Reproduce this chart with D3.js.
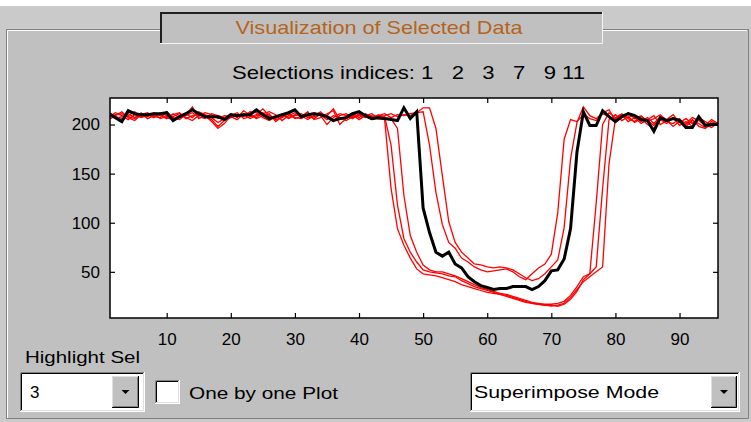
<!DOCTYPE html>
<html>
<head>
<meta charset="utf-8">
<script src="https://cdn.jsdelivr.net/npm/d3@7"></script>
<style>
  html, body { margin: 0; padding: 0; background: #ffffff; }
  svg { display: block; }
  text { font-family: "Liberation Sans", Arial, sans-serif; }
</style>
</head>
<body>
<svg id="chart" width="751" height="422"></svg>
<script>
// ---------- data ----------
const selectionIndices = [1, 2, 3, 7, 9, 11];
const highlighted = 3;
const xTicks = [10, 20, 30, 40, 50, 60, 70, 80, 90];
const yTicks = [50, 100, 150, 200];

const sel1 = [208,212,209,205,210,207,209,211,206,208, 210,212,206,209,211,208,205,198,204,207,
  210,208,213,212,207,204,208,210,206,209, 211,207,208,210,205,209,207,204,208,210,
  207,209,206,205,135,94,77,64,53,48, 47,46,44,42,40,37,35,33,31,29,
  28,27,25,23,21,19,18,17,16,15, 16,18,24,32,40,45,50,55,160,206,
  210,203,207,201,205,209,200,204,198,203, 200,205,198,196,201,199];
const sel2 = [205,209,213,207,204,210,212,208,207,213, 207,205,210,218,206,209,203,196,201,209,
  212,206,208,210,216,209,205,207,211,206, 208,213,205,207,211,214,200,206,210,205,
  209,211,206,208,179,118,84,70,60,52, 50,49,48,46,45,41,38,35,33,31,
  29,27,26,24,22,20,18,17,16,16, 15,17,22,30,42,48,55,135,205,210,
  204,208,202,206,200,196,205,201,207,199, 203,198,205,200,197,202];
const sel3 = [211,207,203,214,211,210,210,211,211,212, 204,208,211,215,211,208,208,208,205,210,
  209,210,210,215,210,206,208,210,212,215, 208,210,211,210,208,204,206,207,211,213,
  209,206,207,206,205,204,217,206,213,115, 90,70,66,70,58,54,45,40,36,34,
  32,33,33,35,35,35,32,35,41,51, 52,63,94,172,213,199,199,214,208,203,
  208,211,209,205,204,193,207,204,206,204, 197,197,208,199,200,200];
const sel7 = [210,206,208,211,207,212,206,209,210,207, 205,209,211,207,213,210,207,202,206,211,
  207,214,210,206,209,211,203,208,212,207, 206,210,212,209,200,207,211,209,206,211,
  208,205,210,207,206,196,128,87,70,57, 52,50,50,48,46,43,40,37,34,32,
  30,28,27,25,23,21,19,18,17,17, 18,20,26,35,45,48,120,200,212,207,
  211,206,203,208,204,199,207,203,201,206, 198,204,201,197,203,200];
const sel9 = [212,208,206,209,213,208,210,207,212,209, 208,211,207,204,209,212,210,206,209,208,
  205,211,209,207,212,208,206,211,207,210, 209,205,209,213,207,204,209,211,207,209,
  210,207,208,209,211,208,210,209,212,213, 179,131,98,80,74,64,60,55,52,50,
  51,52,53,50,45,42,48,54,58,68, 110,185,205,203,210,206,204,211,208,205,
  209,207,210,203,207,201,208,205,210,202, 206,201,207,203,200,202];
const sel11 = [207,210,211,208,206,211,208,212,209,206, 211,207,209,212,208,206,211,209,207,210,
  208,210,206,209,211,213,210,204,209,212, 207,209,206,211,209,216,205,208,212,207,
  211,208,209,211,207,210,209,211,212,217, 217,196,148,101,80,70,64,58,57,55,
  54,55,54,52,48,44,41,43,48,55, 62,95,165,202,218,209,206,212,215,204,
  207,212,206,209,203,206,210,204,207,205, 201,207,204,199,205,201];

const seriesList = [
  { id: 1, values: sel1 }, { id: 2, values: sel2 }, { id: 3, values: sel3 },
  { id: 7, values: sel7 }, { id: 9, values: sel9 }, { id: 11, values: sel11 }
];

// ---------- GUI frame ----------
const svg = d3.select("#chart");
const W = 751, H = 422;
const panel = "#c0c0c0";

svg.append("rect").attr("x", 0).attr("y", 0).attr("width", W).attr("height", H).attr("fill", "#ffffff");
svg.append("rect").attr("x", 0).attr("y", 6).attr("width", W).attr("height", H - 6).attr("fill", "#cacaca");
// panel with etched border
svg.append("rect").attr("x", 6).attr("y", 29).attr("width", 742).attr("height", 389).attr("fill", panel);
svg.append("path").attr("d", "M6.5,418 V29.5 H748").attr("fill", "none").attr("stroke", "#808080");
svg.append("path").attr("d", "M7.5,418 V30.5 H747").attr("fill", "none").attr("stroke", "#ffffff");
svg.append("path").attr("d", "M6,418.5 H748.5 V29").attr("fill", "none").attr("stroke", "#808080");

// title box
svg.append("rect").attr("x", 160).attr("y", 12).attr("width", 442).attr("height", 31).attr("fill", panel);
svg.append("path").attr("d", "M161,43 V13 H602").attr("fill", "none").attr("stroke", "#202020").attr("stroke-width", 2);
svg.append("path").attr("d", "M160,43.5 H602.5 V12").attr("fill", "none").attr("stroke", "#f4f4f4").attr("stroke-width", 1);
svg.append("text").attr("x", 379).attr("y", 34).attr("text-anchor", "middle")
  .attr("font-size", 19).attr("fill", "#b4641e")
  .attr("textLength", 287).attr("lengthAdjust", "spacingAndGlyphs")
  .text("Visualization of Selected Data");

// subtitle
svg.append("text").attr("x", 232).attr("y", 79)
  .attr("font-size", 18).attr("fill", "#000").style("white-space", "pre")
  .attr("textLength", 353).attr("lengthAdjust", "spacingAndGlyphs")
  .text("Selections indices: " + selectionIndices.slice(0, 5).join("   ") + " " + selectionIndices[5]);

// ---------- chart ----------
const plot = { left: 110, right: 718, top: 98, bottom: 318 };
const x = d3.scaleLinear().domain([1, 96]).range([plot.left - 1, plot.right]);
const y = d3.scaleLinear().domain([3, 227]).range([plot.bottom, plot.top]);

svg.append("rect").attr("x", plot.left).attr("y", plot.top)
  .attr("width", plot.right - plot.left).attr("height", plot.bottom - plot.top).attr("fill", "#ffffff");

svg.append("clipPath").attr("id", "clip").append("rect")
  .attr("x", plot.left).attr("y", plot.top).attr("width", plot.right - plot.left).attr("height", plot.bottom - plot.top);

const line = d3.line().x((d, i) => x(i + 1)).y(d => y(d));
const g = svg.append("g").attr("clip-path", "url(#clip)");
seriesList.filter(s => s.id !== highlighted).forEach(s => {
  g.append("path").datum(s.values).attr("d", line)
    .attr("fill", "none").attr("stroke", "#ff0000").attr("stroke-width", 1.3);
});
seriesList.filter(s => s.id === highlighted).forEach(s => {
  g.append("path").datum(s.values).attr("d", line)
    .attr("fill", "none").attr("stroke", "#000000").attr("stroke-width", 3).attr("stroke-linejoin", "miter");
});

// axes (MATLAB style: box, inward ticks)
const fs = 17;
const xAxis = svg.append("g").attr("transform", `translate(0,${plot.bottom})`)
  .call(d3.axisBottom(x).tickValues(xTicks).tickSize(-5).tickPadding(15));
const yAxis = svg.append("g").attr("transform", `translate(${plot.left},0)`)
  .call(d3.axisLeft(y).tickValues(yTicks).tickSize(-5).tickPadding(10));
const xTop = svg.append("g").attr("transform", `translate(0,${plot.top})`)
  .call(d3.axisTop(x).tickValues(xTicks).tickSize(-5).tickFormat(""));
const yRight = svg.append("g").attr("transform", `translate(${plot.right},0)`)
  .call(d3.axisRight(y).tickValues(yTicks).tickSize(-5).tickFormat(""));
[xAxis, yAxis, xTop, yRight].forEach(a => {
  a.select(".domain").remove();
  a.selectAll("line").attr("stroke", "#000").attr("stroke-width", 1.2);
  a.selectAll("text").attr("font-size", fs).attr("fill", "#000")
    .attr("font-family", "Liberation Sans, Arial, sans-serif");
});
svg.append("rect").attr("x", plot.left).attr("y", plot.top)
  .attr("width", plot.right - plot.left).attr("height", plot.bottom - plot.top)
  .attr("fill", "none").attr("stroke", "#000").attr("stroke-width", 1.5);

// ---------- controls ----------
svg.append("text").attr("x", 25).attr("y", 363).attr("font-size", 17)
  .attr("textLength", 115).attr("lengthAdjust", "spacingAndGlyphs").text("Highlight Sel");

function sunkenBox(x0, y0, w, h) {
  svg.append("rect").attr("x", x0).attr("y", y0).attr("width", w).attr("height", h).attr("fill", "#ffffff");
  svg.append("path").attr("d", `M${x0 + 0.5},${y0 + h} V${y0 + 0.5} H${x0 + w}`).attr("fill", "none").attr("stroke", "#808080");
  svg.append("path").attr("d", `M${x0 + 1.5},${y0 + h - 1} V${y0 + 1.5} H${x0 + w - 1}`).attr("fill", "none").attr("stroke", "#000");
  svg.append("path").attr("d", `M${x0},${y0 + h - 0.5} H${x0 + w - 0.5} V${y0}`).attr("fill", "none").attr("stroke", "#ffffff");
  svg.append("path").attr("d", `M${x0 + 1},${y0 + h - 1.5} H${x0 + w - 1.5} V${y0 + 1}`).attr("fill", "none").attr("stroke", "#dfdfdf");
}
function dropButton(x0, y0, w, h) {
  svg.append("rect").attr("x", x0).attr("y", y0).attr("width", w).attr("height", h).attr("fill", panel);
  svg.append("path").attr("d", `M${x0 + 0.5},${y0 + h} V${y0 + 0.5} H${x0 + w}`).attr("fill", "none").attr("stroke", "#dfdfdf");
  svg.append("path").attr("d", `M${x0},${y0 + h - 0.5} H${x0 + w - 0.5} V${y0}`).attr("fill", "none").attr("stroke", "#000");
  svg.append("path").attr("d", `M${x0 + 1},${y0 + h - 1.5} H${x0 + w - 1.5} V${y0 + 1}`).attr("fill", "none").attr("stroke", "#808080");
  const cx = x0 + w / 2, cy = y0 + h / 2;
  svg.append("path").attr("d", `M${cx - 4},${cy - 2} H${cx + 4} L${cx},${cy + 2} Z`).attr("fill", "#000");
}

// popup 1
sunkenBox(20, 372, 125, 40);
dropButton(112, 376, 27, 32);
svg.append("text").attr("x", 30).attr("y", 398).attr("font-size", 17).text(String(highlighted));

// checkbox
sunkenBox(155, 380, 25, 24);
svg.append("text").attr("x", 189).attr("y", 399).attr("font-size", 17)
  .attr("textLength", 149).attr("lengthAdjust", "spacingAndGlyphs").text("One by one Plot");

// popup 2
sunkenBox(470, 372, 270, 40);
dropButton(711, 376, 26, 32);
svg.append("text").attr("x", 474).attr("y", 398).attr("font-size", 17)
  .attr("textLength", 185).attr("lengthAdjust", "spacingAndGlyphs").text("Superimpose Mode");
</script>
</body>
</html>
